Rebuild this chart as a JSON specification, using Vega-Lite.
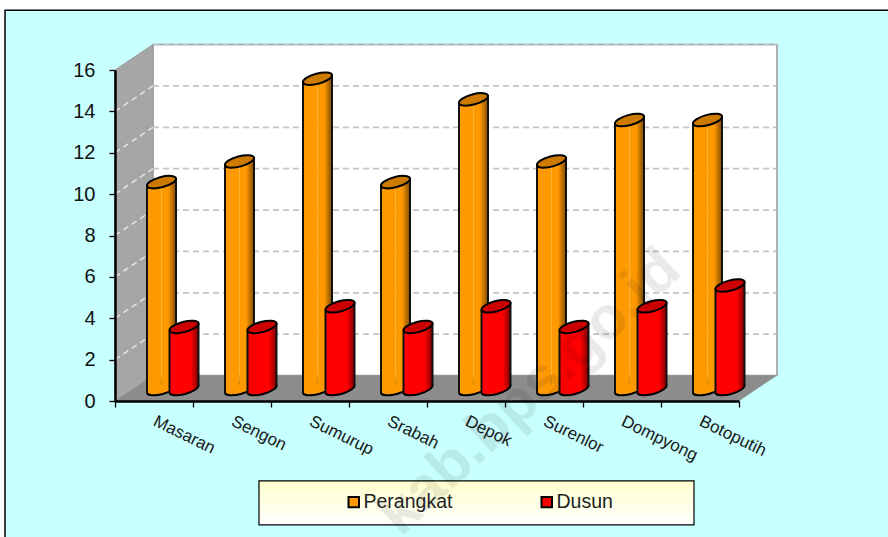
{
"$schema":"https://vega.github.io/schema/vega-lite/v6.json",
"width":888,"height":537,"padding":0,"autosize":{"type":"none"},"background":"white",
"config":{"view":{"stroke":null},"font":"Liberation Sans"},
"datasets":{
"bars":[
{"category":"Masaran","series":"Perangkat","value":10},{"category":"Sengon","series":"Perangkat","value":11},{"category":"Sumurup","series":"Perangkat","value":15},{"category":"Srabah","series":"Perangkat","value":10},{"category":"Depok","series":"Perangkat","value":14},{"category":"Surenlor","series":"Perangkat","value":11},{"category":"Dompyong","series":"Perangkat","value":13},{"category":"Botoputih","series":"Perangkat","value":13},
{"category":"Masaran","series":"Dusun","value":3},{"category":"Sengon","series":"Dusun","value":3},{"category":"Sumurup","series":"Dusun","value":4},{"category":"Srabah","series":"Dusun","value":3},{"category":"Depok","series":"Dusun","value":4},{"category":"Surenlor","series":"Dusun","value":3},{"category":"Dompyong","series":"Dusun","value":4},{"category":"Botoputih","series":"Dusun","value":5}],
"gridBack":[{"g":2,"pos":0.487,"v":3.23},{"g":2,"pos":8.487,"v":3.23},{"g":4,"pos":0.487,"v":5.23},{"g":4,"pos":8.487,"v":5.23},{"g":6,"pos":0.487,"v":7.23},{"g":6,"pos":8.487,"v":7.23},{"g":8,"pos":0.487,"v":9.23},{"g":8,"pos":8.487,"v":9.23},{"g":10,"pos":0.487,"v":11.23},{"g":10,"pos":8.487,"v":11.23},{"g":12,"pos":0.487,"v":13.23},{"g":12,"pos":8.487,"v":13.23},{"g":14,"pos":0.487,"v":15.23},{"g":14,"pos":8.487,"v":15.23},{"g":16,"pos":0.487,"v":17.23},{"g":16,"pos":8.487,"v":17.23}],
"gridSide":[{"g":2,"pos":0,"v":2},{"g":2,"pos":0.487,"v":3.23},{"g":4,"pos":0,"v":4},{"g":4,"pos":0.487,"v":5.23},{"g":6,"pos":0,"v":6},{"g":6,"pos":0.487,"v":7.23},{"g":8,"pos":0,"v":8},{"g":8,"pos":0.487,"v":9.23},{"g":10,"pos":0,"v":10},{"g":10,"pos":0.487,"v":11.23},{"g":12,"pos":0,"v":12},{"g":12,"pos":0.487,"v":13.23},{"g":14,"pos":0,"v":14},{"g":14,"pos":0.487,"v":15.23}]
},
"resolve":{"scale":{"x":"independent"},"axis":{"y":"independent"}},
"layer":[
{"encoding":{
 "x":{"field":"pos","type":"quantitative","axis":null,"scale":{"domain":[0,8],"range":[115,739],"nice":false,"zero":false}},
 "y":{"field":"v","type":"quantitative","axis":null,"scale":{"domain":[0,16],"range":[401,70],"nice":false,"zero":false}}},
 "layer":[
 {"data":{"values":[{"pos":-1.41,"pos2":10.5,"v":18.89,"v2":-7}]},"mark":{"type":"rect","fill":"#c8ffff","stroke":"#000000","strokeWidth":1.5},
  "encoding":{"x2":{"field":"pos2"},"y2":{"field":"v2"}}},
 {"data":{"values":[{"pos":0.487,"pos2":8.487,"v":1.23,"v2":17.23}]},"mark":{"type":"rect","fill":"#ffffff","stroke":"#9a9a9a","strokeWidth":1.5},
  "encoding":{"x2":{"field":"pos2"},"y2":{"field":"v2"}}},
 {"data":{"values":[{"pos":0,"v":0,"v2":16},{"pos":0.487,"v":1.23,"v2":17.23}]},"mark":{"type":"area","fill":"#a6a6a6","stroke":"#9a9a9a","strokeWidth":1},
  "encoding":{"y2":{"field":"v2"}}},
 {"data":{"values":[{"pos":0,"v":0,"v2":0},{"pos":0.487,"v":1.23,"v2":0},{"pos":8,"v":1.23,"v2":0},{"pos":8.487,"v":1.23,"v2":1.23}]},"mark":{"type":"area","fill":"#8c8c8c"},
  "encoding":{"y2":{"field":"v2"}}},
 {"data":{"name":"gridBack"},"mark":{"type":"line","stroke":"#c4c4c4","strokeWidth":1.8,"strokeDash":[6,4]},"encoding":{"detail":{"field":"g"}}},
 {"data":{"name":"gridSide"},"mark":{"type":"line","stroke":"#e4e4e4","strokeWidth":1.5,"strokeDash":[6,4]},"encoding":{"detail":{"field":"g"}}},
 {"data":{"values":[{"pos":1.846,"pos2":7.423,"v":-3.865,"v2":-5.99}]},"mark":{"type":"rect","stroke":"#000000","strokeWidth":1.2,"fill":{"gradient":"linear","x1":0,"y1":0,"x2":0,"y2":1,"stops":[{"offset":0,"color":"#ffffcc"},{"offset":1,"color":"#ffffff"}]}},
  "encoding":{"x2":{"field":"pos2"},"y2":{"field":"v2"}}}
 ]},
{"data":{"name":"bars"},
 "encoding":{
 "x":{"field":"category","type":"nominal","sort":null,"title":null,
  "scale":{"domain":["Masaran","Sengon","Sumurup","Srabah","Depok","Surenlor","Dompyong","Botoputih"],"range":[115,739],"paddingInner":0,"paddingOuter":0},
  "axis":{"orient":"bottom","offset":-136,"zindex":1,"tickBand":"extent","labelAngle":26,"labelAlign":"left","labelBaseline":"middle","labelPadding":13,"labelBound":false,"labelOverlap":false,"labelFlush":false,"labelFont":"Liberation Sans","labelFontSize":17,"labelColor":"#1a1a1a","domainColor":"#000000","domainWidth":2.5,"tickColor":"#000000","tickWidth":1.3,"tickSize":6}},
 "y":{"field":"value","type":"quantitative","title":null,
  "scale":{"domain":[0,16],"range":[401,70],"nice":false,"zero":false},
  "axis":{"orient":"left","offset":-115,"zindex":1,"values":[0,2,4,6,8,10,12,14,16],"grid":false,"labelPadding":14,"labelFont":"Liberation Sans","labelFontSize":20,"labelColor":"#111111","domainColor":"#000000","domainWidth":2.5,"tickColor":"#000000","tickWidth":1.3,"tickSize":6}}},
 "layer":[
 {"transform":[{"filter":"datum.series==='Perangkat'"}],"mark":{"type":"point","filled":true,"shape":"M-.966,.259 A1,.34,-15,1,1,.966,-.259 A1,.34,-15,1,1,-.966,.259Z","size":900,"xOffset":7.5,"yOffset":-12,"stroke":"#000000","strokeWidth":2,"opacity":1,"fill":{"gradient":"linear","x1":0,"y1":0,"x2":1,"y2":0,"stops":[{"offset":0,"color":"#ff9900"},{"offset":0.75,"color":"#ff9900"},{"offset":1,"color":"#7f4c00"}]}},"encoding":{"y":{"datum":0}}},
 {"transform":[{"filter":"datum.series==='Perangkat'"}],"mark":{"type":"bar","width":14.5,"xOffset":0.25,"yOffset":-8.1,"y2Offset":-8.1},"encoding":{"y2":{"datum":0},
  "color":{"field":"series","type":"nominal","scale":{"domain":["Perangkat","Dusun"],"range":["#ff9900","#ff0000"]},
   "legend":{"title":null,"orient":"none","legendX":344,"legendY":492,"direction":"horizontal","symbolType":"square","symbolSize":110,"symbolStrokeColor":"#000000","symbolStrokeWidth":2,"labelFont":"Liberation Sans","labelFontSize":19.5,"labelColor":"#222222","labelOffset":0,"columnPadding":84,"symbolOpacity":1}}}},
 {"transform":[{"filter":"datum.series==='Perangkat'"}],"mark":{"type":"bar","width":14.5,"xOffset":14.75,"yOffset":-15.9,"y2Offset":-15.9,"fill":{"gradient":"linear","x1":0,"y1":0,"x2":1,"y2":0,"stops":[{"offset":0,"color":"#ff9900"},{"offset":0.45,"color":"#ff9900"},{"offset":1,"color":"#7f4c00"}]}},"encoding":{"y2":{"datum":0}}},
 {"transform":[{"filter":"datum.series==='Perangkat'"}],"mark":{"type":"rule","color":"#111111","strokeWidth":2,"xOffset":-7,"yOffset":-8.1,"y2Offset":-8.1},"encoding":{"y2":{"datum":0}}},
 {"transform":[{"filter":"datum.series==='Perangkat'"}],"mark":{"type":"rule","color":"#111111","strokeWidth":2,"xOffset":22,"yOffset":-15.9,"y2Offset":-15.9},"encoding":{"y2":{"datum":0}}},
 {"transform":[{"filter":"datum.series==='Perangkat'"}],"mark":{"type":"point","filled":true,"shape":"M-.966,.259 A1,.34,-15,1,1,.966,-.259 A1,.34,-15,1,1,-.966,.259Z","size":900,"xOffset":7.5,"yOffset":-12,"stroke":"#000000","strokeWidth":2,"opacity":1,"fill":"#cc7a00"}},

 {"transform":[{"filter":"datum.series==='Dusun'"}],"mark":{"type":"point","filled":true,"shape":"M-.966,.259 A1,.34,-15,1,1,.966,-.259 A1,.34,-15,1,1,-.966,.259Z","size":900,"xOffset":30,"yOffset":-12,"stroke":"#000000","strokeWidth":2,"opacity":1,"fill":{"gradient":"linear","x1":0,"y1":0,"x2":1,"y2":0,"stops":[{"offset":0,"color":"#ff0000"},{"offset":0.75,"color":"#ff0000"},{"offset":1,"color":"#800000"}]}},"encoding":{"y":{"datum":0}}},
 {"transform":[{"filter":"datum.series==='Dusun'"}],"mark":{"type":"bar","width":14.5,"xOffset":22.75,"yOffset":-8.1,"y2Offset":-8.1},"encoding":{"y2":{"datum":0},
  "color":{"field":"series","type":"nominal","scale":{"domain":["Perangkat","Dusun"],"range":["#ff9900","#ff0000"]}}}},
 {"transform":[{"filter":"datum.series==='Dusun'"}],"mark":{"type":"bar","width":14.5,"xOffset":37.25,"yOffset":-15.9,"y2Offset":-15.9,"fill":{"gradient":"linear","x1":0,"y1":0,"x2":1,"y2":0,"stops":[{"offset":0,"color":"#ff0000"},{"offset":0.45,"color":"#ff0000"},{"offset":1,"color":"#800000"}]}},"encoding":{"y2":{"datum":0}}},
 {"transform":[{"filter":"datum.series==='Dusun'"}],"mark":{"type":"rule","color":"#111111","strokeWidth":2,"xOffset":15.5,"yOffset":-8.1,"y2Offset":-8.1},"encoding":{"y2":{"datum":0}}},
 {"transform":[{"filter":"datum.series==='Dusun'"}],"mark":{"type":"rule","color":"#111111","strokeWidth":2,"xOffset":44.5,"yOffset":-15.9,"y2Offset":-15.9},"encoding":{"y2":{"datum":0}}},
 {"transform":[{"filter":"datum.series==='Dusun'"}],"mark":{"type":"point","filled":true,"shape":"M-.966,.259 A1,.34,-15,1,1,.966,-.259 A1,.34,-15,1,1,-.966,.259Z","size":900,"xOffset":30,"yOffset":-12,"stroke":"#000000","strokeWidth":2,"opacity":1,"fill":"#cc0000"}}
 ]
},
{"data":{"values":[{"pos":5.32,"v":0.43,"text":"kab.bps.go.id"}]},
 "mark":{"type":"text","font":"Liberation Sans","fontWeight":"bold","fontSize":60,"angle":317,"color":"#000000","opacity":0.08,"align":"center","baseline":"middle"},
 "encoding":{"x":{"field":"pos","type":"quantitative","axis":null,"scale":{"domain":[0,8],"range":[115,739],"nice":false,"zero":false}},
  "y":{"field":"v","type":"quantitative","axis":null,"scale":{"domain":[0,16],"range":[401,70],"nice":false,"zero":false}},
  "text":{"field":"text"}}}
]
}
